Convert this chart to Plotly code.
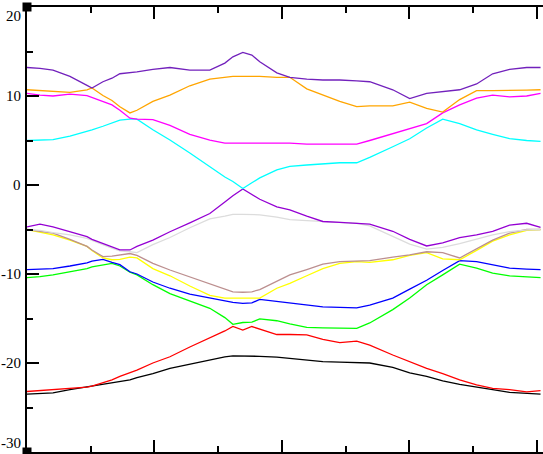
import plotly.graph_objects as go

# k-path coordinate (x axis units, major tick = 1)
k = [0.000, 0.102, 0.204, 0.337, 0.471, 0.510, 0.596, 0.667, 0.729, 0.808,
     0.863, 0.988, 1.122, 1.278, 1.435, 1.553, 1.616, 1.694, 1.765, 1.827,
     1.961, 2.063, 2.196, 2.322, 2.455, 2.588, 2.690, 2.871, 3.004, 3.137,
     3.263, 3.396, 3.529, 3.655, 3.788, 3.922, 4.031]

band_black = [-23.5, -23.4, -23.35, -23.0, -22.7, -22.65, -22.4, -22.3, -22.1, -21.9,
              -21.65, -21.2, -20.6, -20.1, -19.6, -19.3, -19.2, -19.2, -19.2, -19.25,
              -19.35, -19.5, -19.7, -19.85, -19.9, -20.0, -20.0, -20.5, -21.1, -21.5,
              -22.0, -22.4, -22.75, -23.0, -23.3, -23.45, -23.5]
band_red = [-23.2, -23.1, -23.0, -22.85, -22.7, -22.6, -22.2, -21.9, -21.5, -21.1,
            -20.8, -20.0, -19.3, -18.2, -17.2, -16.4, -15.9, -16.3, -15.9, -16.2,
            -16.8, -16.8, -16.85, -17.35, -17.7, -17.55, -18.0, -19.1, -19.85, -20.6,
            -21.2, -21.9, -22.45, -22.85, -23.0, -23.25, -23.1]
band_green = [-10.4, -10.3, -10.1, -9.75, -9.4, -9.2, -9.0, -8.8, -9.1, -9.8,
              -10.1, -11.2, -12.2, -13.05, -13.85, -14.9, -15.65, -15.45, -15.4, -15.05,
              -15.25, -15.6, -16.0, -16.05, -16.1, -16.1, -15.5, -14.0, -12.7, -11.2,
              -10.1, -8.9, -9.35, -9.9, -10.2, -10.35, -10.4]
band_blue = [-9.5, -9.45, -9.4, -9.1, -8.75, -8.55, -8.35, -8.7, -8.95, -9.75,
             -10.0, -10.9, -11.6, -12.25, -12.7, -13.1, -13.2, -13.3, -13.25, -12.85,
             -13.1, -13.3, -13.5, -13.7, -13.75, -13.8, -13.5, -12.7, -11.7, -10.7,
             -9.6, -8.5, -8.6, -9.0, -9.35, -9.45, -9.5]
band_yellow = [-5.0, -5.3, -5.6, -6.2, -6.9, -7.35, -8.2, -8.4, -8.35, -8.1,
               -8.2, -9.4, -10.2, -11.35, -12.4, -12.7, -12.7, -12.7, -12.7, -12.7,
               -11.6, -11.05, -10.2, -9.4, -8.8, -8.6, -8.7, -8.4, -7.9, -7.6,
               -8.3, -8.4, -7.35, -6.3, -5.6, -5.1, -5.0]
band_brown = [-5.0, -5.2, -5.4, -6.1, -6.9, -7.3, -8.05, -8.0, -7.9, -7.7,
              -7.9, -8.8, -9.55, -10.3, -11.1, -11.7, -12.0, -12.05, -12.0, -11.75,
              -10.8, -10.1, -9.5, -8.9, -8.6, -8.5, -8.5, -8.1, -7.85, -7.5,
              -7.6, -8.2, -7.2, -6.2, -5.4, -5.0, -5.0]
band_grey = [-5.0, -5.1, -5.35, -5.6, -6.0, -6.2, -6.7, -7.1, -7.4, -7.5,
             -7.6, -6.7, -5.9, -4.8, -3.8, -3.5, -3.3, -3.3, -3.3, -3.35,
             -3.6, -3.9, -4.0, -4.1, -4.2, -4.3, -4.6, -5.8, -6.65, -7.2,
             -7.0, -6.6, -6.1, -5.6, -5.25, -5.05, -5.0]
band_violet = [-4.7, -4.4, -4.7, -5.25, -5.8, -6.1, -6.55, -7.0, -7.3, -7.3,
               -6.9, -6.2, -5.25, -4.25, -3.2, -1.9, -1.2, -0.45, -1.1, -1.6,
               -2.45, -2.8, -3.5, -4.1, -4.2, -4.3, -4.4, -5.2, -6.1, -6.85,
               -6.5, -5.9, -5.6, -5.2, -4.5, -4.3, -4.75]
band_cyan = [5.0, 5.05, 5.1, 5.5, 6.0, 6.2, 6.6, 7.0, 7.3, 7.4,
             7.4, 6.2, 5.05, 3.6, 2.05, 0.9, 0.4, -0.4, 0.25, 0.8,
             1.7, 2.1, 2.25, 2.4, 2.5, 2.5, 3.1, 4.3, 5.2, 6.4,
             7.4, 6.9, 6.2, 5.7, 5.2, 5.0, 4.9]
band_magenta = [10.3, 10.1, 10.0, 10.2, 10.05, 9.85, 9.4, 9.0, 8.4, 7.5,
                7.4, 7.35, 6.7, 5.7, 5.05, 4.7, 4.7, 4.7, 4.7, 4.7,
                4.7, 4.7, 4.6, 4.6, 4.6, 4.6, 5.0, 5.8, 6.35, 6.9,
                8.1, 9.0, 9.75, 10.1, 9.9, 10.0, 10.3]
band_orange = [10.7, 10.6, 10.5, 10.4, 10.7, 10.9, 10.05, 9.5, 8.8, 8.1,
               8.4, 9.4, 10.1, 11.15, 11.9, 12.1, 12.2, 12.2, 12.2, 12.2,
               12.1, 12.1, 10.8, 10.1, 9.4, 8.8, 8.9, 8.9, 9.3, 8.6,
               8.2, 9.6, 10.6, 10.6, 10.6, 10.65, 10.7]
band_indigo = [13.2, 13.1, 12.9, 12.2, 11.2, 10.9, 11.6, 12.0, 12.5, 12.6,
               12.7, 13.0, 13.2, 12.9, 12.9, 13.7, 14.4, 14.9, 14.6, 13.85,
               12.6, 12.1, 11.9, 11.8, 11.8, 11.7, 11.6, 10.7, 9.7, 10.3,
               10.5, 10.7, 11.35, 12.5, 13.0, 13.2, 13.2]

# y tick labels
y_ticks = [-30, -20, -10, 0, 10, 20]
y_labels = ["-30", "-20", "-10", "0", "10", "20"]

# corner marker set
corner_x = [0, 0]
corner_y = [20, -30]

bands = [
    (band_black, "rgb(0,0,0)"),
    (band_red, "rgb(255,0,0)"),
    (band_green, "rgb(0,255,0)"),
    (band_blue, "rgb(0,0,255)"),
    (band_yellow, "rgb(255,255,0)"),
    (band_brown, "rgb(188,143,143)"),
    (band_grey, "rgb(220,220,220)"),
    (band_violet, "rgb(148,0,211)"),
    (band_cyan, "rgb(0,255,255)"),
    (band_magenta, "rgb(255,0,255)"),
    (band_orange, "rgb(255,165,0)"),
    (band_indigo, "rgb(114,33,188)"),
]

fig = go.Figure()
for ys, color in bands:
    fig.add_trace(go.Scatter(x=k, y=ys, mode="lines",
                             line=dict(color=color, width=1.3),
                             showlegend=False, hoverinfo="skip"))

fig.add_trace(go.Scatter(x=corner_x, y=corner_y, mode="markers",
                         marker=dict(symbol="square", size=9, color="black"),
                         cliponaxis=False, showlegend=False, hoverinfo="skip"))

# tick labels as annotations so the end labels stay inside the page
for val, txt in zip(y_ticks, y_labels):
    if val == y_ticks[0]:
        anchor = "bottom"
    elif val == y_ticks[-1]:
        anchor = "top"
    else:
        anchor = "middle"
    fig.add_annotation(x=0, xref="paper", xanchor="right", xshift=-5,
                       y=val, yref="y", yanchor=anchor,
                       text=txt, showarrow=False, borderpad=0,
                       font=dict(family="Liberation Serif", size=15, color="black"))

fig.update_layout(
    width=543,
    height=454,
    margin=dict(l=27, r=0, t=7, b=2, autoexpand=False),
    paper_bgcolor="white",
    plot_bgcolor="white",
    font=dict(family="Liberation Serif", size=15, color="black"),
    xaxis=dict(
        range=[0, 516 / 127.4],
        automargin=False,
        showline=True, linecolor="black", linewidth=1.5,
        mirror="allticks",
        ticks="inside", ticklen=12, tickwidth=1.5, tickcolor="black",
        tick0=0, dtick=1,
        minor=dict(dtick=0.5, ticklen=6, ticks="inside", tickwidth=1.5,
                   tickcolor="black", showgrid=False),
        showticklabels=False, showgrid=False, zeroline=False,
    ),
    yaxis=dict(
        range=[-30, 20],
        automargin=False,
        showline=True, linecolor="black", linewidth=1.5,
        ticks="inside", ticklen=12, tickwidth=1.5, tickcolor="black",
        tickvals=y_ticks,
        minor=dict(dtick=5, ticklen=6, ticks="inside", tickwidth=1.5,
                   tickcolor="black", showgrid=False),
        showticklabels=False,
        showgrid=False, zeroline=False,
    ),
)

fig.write_html("out.html", config={"displayModeBar": False},
               post_script="document.body.style.margin='0';")
